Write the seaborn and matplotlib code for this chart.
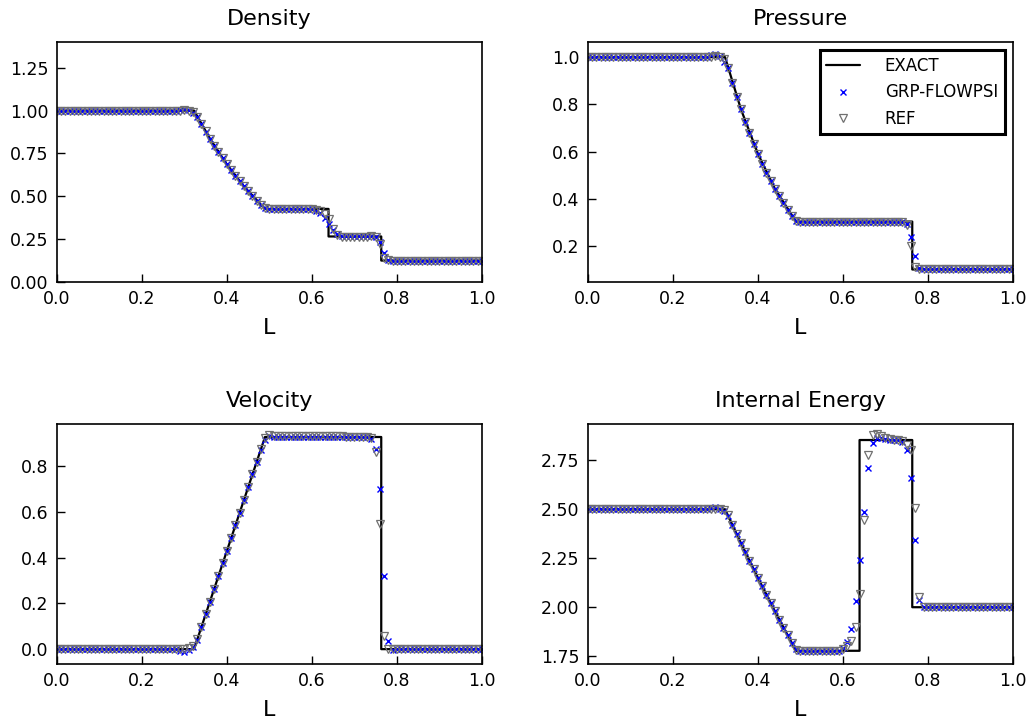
import numpy as np
import pandas as pd
import matplotlib
matplotlib.use("Agg")
import matplotlib.pyplot as plt
from matplotlib.ticker import FormatStrFormatter
import seaborn as sns

# Mesh nodes (0.00 ... 1.00, spacing 0.01)
x = np.round(np.arange(101) * 0.01, 2)

# Exact Riemann solution: breakpoints (head, fan, tail, contact, shock)
x_exact = [0.0, 0.3225, 0.36, 0.40, 0.44, 0.4895, 0.639, 0.639, 0.763, 0.763, 1.0]
rho_exact = [1.0, 1.0, 0.8362, 0.6857, 0.5576, 0.4263, 0.4263, 0.2656, 0.2656, 0.125, 0.125]
p_exact = [1.0, 1.0, 0.7786, 0.5897, 0.4415, 0.3031, 0.3031, 0.3031, 0.3031, 0.1, 0.1]
u_exact = [0.0, 0.0, 0.2083, 0.4304, 0.6525, 0.9274, 0.9274, 0.9274, 0.9274, 0.0, 0.0]
e_exact = [2.5, 2.5, 2.3272, 2.1496, 1.9790, 1.7776, 1.7776, 2.8535, 2.8535, 2.0, 2.0]

# GRP-FLOWPSI solution
rho_grp = ([1.0] * 29
           + [1.006, 1.008, 1.001, 0.988]
           + [0.962, 0.920, 0.877, 0.836, 0.796, 0.758, 0.721, 0.686,
              0.652, 0.619, 0.588, 0.558, 0.529, 0.501, 0.475, 0.451]
           + [0.433, 0.427]
           + [0.426] * 9 + [0.423]
           + [0.416, 0.401, 0.373, 0.338, 0.305, 0.280, 0.267]
           + [0.266] * 6
           + [0.266, 0.262, 0.234, 0.167, 0.128, 0.125]
           + [0.125] * 21)
p_grp = ([1.0] * 29
         + [1.008, 1.015, 1.005, 0.980]
         + [0.952, 0.891, 0.833, 0.779, 0.727, 0.678, 0.633, 0.590,
            0.549, 0.511, 0.475, 0.442, 0.410, 0.380, 0.353, 0.328]
         + [0.307, 0.303]
         + [0.303] * 23
         + [0.302, 0.291, 0.238, 0.157, 0.105, 0.100]
         + [0.1] * 21)
u_grp = ([0.0] * 29
         + [-0.008, -0.012, -0.004, 0.010]
         + [0.042, 0.097, 0.153, 0.208, 0.264, 0.319, 0.375, 0.430,
            0.486, 0.541, 0.597, 0.653, 0.708, 0.764, 0.819, 0.872]
         + [0.913, 0.930]
         + [0.929] * 10 + [0.928] * 7 + [0.927] * 6
         + [0.920, 0.873, 0.700, 0.320, 0.036, -0.005]
         + [0.0] * 21)
e_grp = ([2.5] * 29
         + [2.505, 2.510, 2.502, 2.490]
         + [2.465, 2.419, 2.373, 2.327, 2.282, 2.238, 2.193, 2.150,
            2.106, 2.063, 2.021, 1.979, 1.937, 1.896, 1.856, 1.818]
         + [1.786, 1.776]
         + [1.776] * 9 + [1.790]
         + [1.823, 1.890, 2.030, 2.240, 2.485, 2.710, 2.840]
         + [2.866, 2.862, 2.858, 2.855, 2.853, 2.852]
         + [2.845, 2.800, 2.662, 2.342, 2.036, 2.000]
         + [2.0] * 21)

# Reference solution
rho_ref = ([1.0] * 29
           + [1.0, 1.003, 1.0, 0.990]
           + [0.965, 0.921, 0.878, 0.836, 0.796, 0.758, 0.721, 0.686,
              0.652, 0.619, 0.588, 0.558, 0.529, 0.501, 0.475, 0.449]
           + [0.430, 0.427]
           + [0.427] * 10
           + [0.421, 0.415, 0.399, 0.366, 0.310, 0.273, 0.263]
           + [0.265] * 6
           + [0.266, 0.264, 0.221, 0.138, 0.126, 0.125]
           + [0.125] * 21)
p_ref = ([1.0] * 29
         + [1.0, 1.004, 1.0, 0.990]
         + [0.955, 0.891, 0.833, 0.779, 0.727, 0.678, 0.633, 0.590,
            0.549, 0.511, 0.475, 0.442, 0.410, 0.380, 0.353, 0.327]
         + [0.305, 0.303]
         + [0.303] * 23
         + [0.302, 0.288, 0.200, 0.112, 0.100, 0.100]
         + [0.1] * 21)
u_ref = ([0.0] * 29
         + [0.0, 0.001, 0.003, 0.014]
         + [0.045, 0.098, 0.153, 0.208, 0.264, 0.319, 0.375, 0.430,
            0.486, 0.541, 0.597, 0.653, 0.708, 0.764, 0.819, 0.874]
         + [0.922, 0.935]
         + [0.932] * 10 + [0.930] * 7 + [0.928] * 6
         + [0.922, 0.863, 0.545, 0.057, 0.002, 0.0]
         + [0.0] * 21)
e_ref = ([2.5] * 29
         + [2.500, 2.502, 2.500, 2.495]
         + [2.470, 2.420, 2.373, 2.327, 2.282, 2.238, 2.193, 2.150,
            2.106, 2.063, 2.021, 1.979, 1.937, 1.896, 1.856, 1.815]
         + [1.782, 1.775]
         + [1.775] * 9 + [1.785]
         + [1.800, 1.826, 1.898, 2.070, 2.444, 2.779, 2.878]
         + [2.884, 2.872, 2.865, 2.860, 2.856, 2.853]
         + [2.850, 2.830, 2.800, 2.509, 2.053, 2.000]
         + [2.0] * 21)

titles = ["Density", "Pressure", "Velocity", "Internal Energy"]
exact_sets = [rho_exact, p_exact, u_exact, e_exact]
grp_sets = [rho_grp, p_grp, u_grp, e_grp]
ref_sets = [rho_ref, p_ref, u_ref, e_ref]
ylims = [(0.0, 1.4), (0.047, 1.064), (-0.065, 0.984), (1.71, 2.935)]
yticks = [np.arange(0, 1.26, 0.25), np.arange(0.2, 1.01, 0.2),
          np.arange(0, 0.81, 0.2), np.arange(1.75, 2.76, 0.25)]
yfmt = ["%.2f", "%.1f", "%.1f", "%.2f"]

sns.set_theme(style="white")
plt.rcParams["font.family"] = ["DejaVu Sans"]
plt.rcParams.update({
    "text.color": "black",
    "axes.labelcolor": "black",
    "axes.titlecolor": "black",
    "xtick.color": "black",
    "ytick.color": "black",
})

fig, axes = plt.subplots(2, 2, figsize=(10.28, 7.22), dpi=100)
fig.subplots_adjust(left=0.0554, right=0.9854, bottom=0.0803, top=0.9418,
                    wspace=0.2494, hspace=0.592)

for i, ax in enumerate(axes.flat):
    sns.lineplot(x=x_exact, y=exact_sets[i], ax=ax, color="black", lw=1.6,
                 estimator=None, sort=False, label="EXACT")
    df = pd.DataFrame({"x": x, "grp": grp_sets[i], "ref": ref_sets[i]})
    sns.lineplot(data=df, x="x", y="grp", ax=ax, linestyle="", marker="x",
                 markersize=4.5, markeredgewidth=1.0, color="blue",
                 markeredgecolor="blue",
                 estimator=None, sort=False, label="GRP-FLOWPSI")
    sns.lineplot(data=df, x="x", y="ref", ax=ax, linestyle="", marker="v",
                 markersize=5.5, markerfacecolor="none",
                 markeredgecolor="#707070", markeredgewidth=0.9, color="gray",
                 estimator=None, sort=False, label="REF")
    ax.set_xlim(0, 1)
    ax.set_ylim(*ylims[i])
    ax.set_xticks(np.arange(0, 1.01, 0.2))
    ax.set_yticks(yticks[i])
    ax.yaxis.set_major_formatter(FormatStrFormatter(yfmt[i]))
    ax.xaxis.set_major_formatter(FormatStrFormatter("%.1f"))
    ax.set_title(titles[i], fontsize=16, pad=12)
    ax.set_xlabel("L", fontsize=16, labelpad=7)
    ax.set_ylabel("")
    ax.tick_params(direction="in", length=6, width=1.0, labelsize=12.5,
                   bottom=True, left=True, top=False, right=False, pad=6)
    for sp in ax.spines.values():
        sp.set_linewidth(1.2)
        sp.set_color("black")
    if i == 1:
        leg = ax.legend(loc="upper right", fontsize=12, frameon=True,
                        fancybox=False, edgecolor="black", framealpha=1,
                        numpoints=1, borderpad=0.4, handletextpad=1.5)
        leg.get_frame().set_linewidth(2.2)
    else:
        ax.get_legend().remove()

fig.savefig("out.png", dpi=100, facecolor="white")
